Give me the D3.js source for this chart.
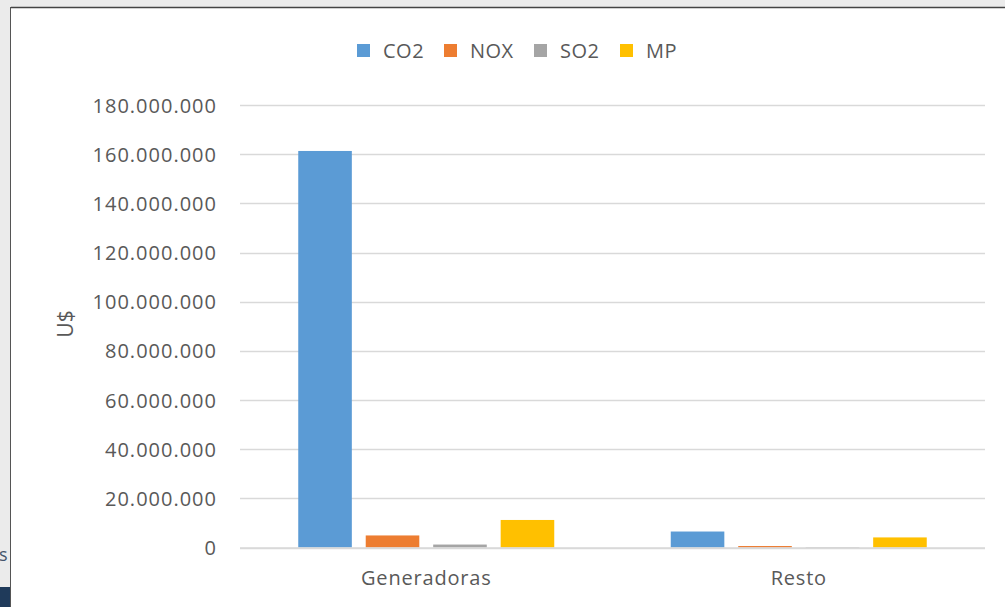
<!DOCTYPE html>
<html><head><meta charset="utf-8">
<script src="https://cdn.jsdelivr.net/npm/d3@7"></script>
<style>
html,body{margin:0;padding:0;background:#ebebeb;}
svg{display:block;}
text{font-family:"Open Sans",sans-serif;fill:#595959;}
</style></head><body>
<svg id="c" width="1005" height="607"></svg>
<script>
const categories = ["Generadoras", "Resto"];
const seriesNames = ["CO2", "NOX", "SO2", "MP"];
const CO2 = [161300000, 6500000];
const NOX = [4900000, 600000];
const SO2 = [1200000, 200000];
const MP = [11200000, 4100000];
const yTicks = [0, 20000000, 40000000, 60000000, 80000000, 100000000, 120000000, 140000000, 160000000, 180000000];
const colors = ["#5b9bd5", "#ed7d31", "#a5a5a5", "#ffc000"];

const seriesValues = [CO2, NOX, SO2, MP];
const svg = d3.select("#c");

// frame
svg.append("rect").attr("x", 11).attr("y", 8).attr("width", 994).attr("height", 599).attr("fill", "#ffffff");
svg.append("line").attr("x1", 11).attr("x2", 1005).attr("y1", 7.5).attr("y2", 7.5).attr("stroke", "#444").attr("stroke-width", 1.5);
svg.append("line").attr("x1", 10.5).attr("x2", 10.5).attr("y1", 7).attr("y2", 607).attr("stroke", "#555").attr("stroke-width", 1);
svg.append("rect").attr("x", 0).attr("y", 587).attr("width", 10).attr("height", 20).attr("fill", "#1f3a5a");
svg.append("text").attr("x", -1).attr("y", 561).attr("font-size", 18).style("fill", "#44546a").text("s");

const pLeft = 240, pRight = 985, pTop = 105, pBottom = 547.5;
const x = d3.scaleBand().domain(categories).range([pLeft, pRight]).paddingInner(0).paddingOuter(0);
const y = d3.scaleLinear().domain([0, 180000000]).range([pBottom, pTop]);
const inner = d3.scaleBand().domain(seriesNames).range([58.25, x.bandwidth() - 58.25]).paddingInner(14 / 68).paddingOuter(0);

// gridlines
svg.append("g").selectAll("line").data(yTicks).join("line")
  .attr("x1", pLeft).attr("x2", pRight)
  .attr("y1", d => Math.round(y(d)) + 0.5).attr("y2", d => Math.round(y(d)) + 0.5)
  .attr("stroke", "#d9d9d9").attr("stroke-width", 1.5);

// y axis labels
const fmt = v => d3.format(",")(v).replace(/,/g, ".");
const yAxis = d3.axisLeft(y).tickValues(yTicks).tickFormat(fmt).tickSize(0).tickPadding(0);
const ga = svg.append("g").attr("transform", "translate(217,0)").call(yAxis);
ga.select(".domain").remove();
ga.selectAll("text").attr("font-size", 20).attr("font-family", "Open Sans").attr("fill", "#595959")
  .attr("dy", "0.35em").attr("letter-spacing", 1);

// bars
const groups = svg.append("g").selectAll("g").data(categories).join("g")
  .attr("transform", d => `translate(${x(d)},0)`);
groups.selectAll("rect").data((c, i) => seriesNames.map((s, j) => ({s, j, v: seriesValues[j][i]}))).join("rect")
  .attr("x", d => inner(d.s)).attr("width", inner.bandwidth())
  .attr("y", d => y(d.v)).attr("height", d => pBottom - y(d.v))
  .attr("fill", d => colors[d.j]);

// baseline
svg.append("line").attr("x1", pLeft).attr("x2", pRight).attr("y1", pBottom + 0.5).attr("y2", pBottom + 0.5)
  .attr("stroke", "#d9d9d9").attr("stroke-width", 1.5);

// x labels
const xAxis = d3.axisBottom(x).tickSize(0).tickPadding(0);
const gx = svg.append("g").attr("transform", `translate(0,${pBottom})`).call(xAxis);
gx.select(".domain").remove();
gx.selectAll("text").attr("font-size", 20).attr("font-family", "Open Sans").attr("fill", "#595959")
  .attr("dy", "1.85em").attr("letter-spacing", 0.8);

// y title
svg.append("text").attr("transform", "translate(73,324) rotate(-90)").attr("text-anchor", "middle")
  .attr("font-size", 21).text("U$");

// legend
const legX = [357, 444, 534, 620];
const leg = svg.append("g").selectAll("g").data(seriesNames).join("g")
  .attr("transform", (d, i) => `translate(${legX[i]},44)`);
leg.append("rect").attr("width", 13).attr("height", 13).attr("fill", (d, i) => colors[i]);
leg.append("text").attr("x", 26).attr("y", 6.5).attr("dy", "0.35em").attr("font-size", 20).attr("letter-spacing", 0.5).text(d => d);
</script>
</body></html>
